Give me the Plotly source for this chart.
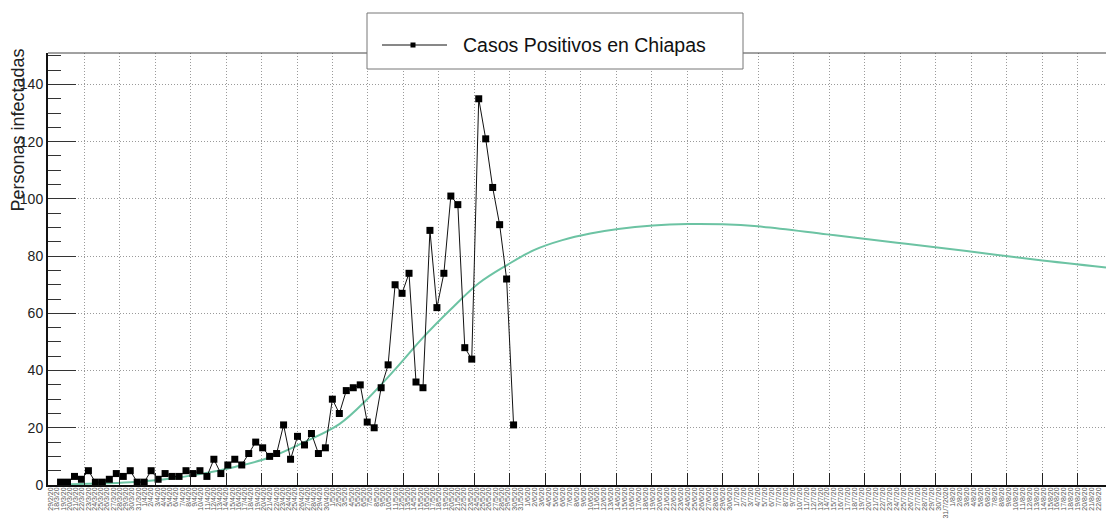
import numpy as np
import plotly.graph_objects as go

# ---------------- data ----------------
# daily positive cases (day index 0 = 27/3/20 ... 65 = 31/5/20)
case_day = list(range(66))
cases = [1, 1, 3, 2, 5, 1, 1, 2, 4, 3, 5, 1, 1, 5, 2, 4, 3, 3, 5, 4,
         5, 3, 9, 4, 7, 9, 7, 11, 15, 13, 10, 11, 21, 9, 17, 14, 18, 11, 13, 30,
         25, 33, 34, 35, 22, 20, 34, 42, 70, 67, 74, 36, 34, 89, 62, 74, 101, 98, 48, 44,
         135, 121, 104, 91, 72, 21]

# fitted curve
fit_day = [0, 5, 10, 15, 20, 25, 30, 35, 40, 44, 48, 52, 56, 60, 64, 68, 72, 76,
           80, 85, 90, 95, 100, 110, 120, 130, 140, 150]
fit_value = [0.2, 0.5, 1.0, 2.0, 3.8, 6.3, 9.6, 15.0, 21.3, 30.0, 40.4, 51.5, 61.4, 70.5,
             76.8, 82.2, 85.6, 87.9, 89.5, 90.7, 91.2, 91.1, 90.4, 87.6, 84.7, 81.8, 78.7, 76.0]

# date tick labels
labels_early = (["29/2/20"] + [f"{d}/3/20" for d in range(18, 32)]
                + [f"{d}/4/20" for d in range(1, 31)] + [f"{d}/5/20" for d in range(1, 32)])
labels_late = ([f"{d}/6/20" for d in range(1, 31)]
               + [f"{d}/7/20" for d in range(1, 31)] + ["31/7/2020"]
               + [f"{d}/8/20" for d in range(1, 23)])

y_ticks = [0, 20, 40, 60, 80, 100, 120, 140]
legend_label = "Casos Positivos en Chiapas"
y_title = "Personas infectadas"

# ---------------- layout constants ----------------
W, H = 1106, 528
ML, MR, MT, MB = 48, 0, 53, 43
x_range = [-1.8, 150.0]
y_range = [0, 151]
grid_start, grid_step = 3.39, 5.09
FONT = "Liberation Sans, Arial, Helvetica, sans-serif"
NARROW = "Liberation Sans Narrow, Arial Narrow, Liberation Sans, Arial, sans-serif"
FIT_COLOR = "#6cc3a3"
GRID = "#9a9a9a"
GRID_DASH = "1px,2px"

pw, ph = W - ML - MR, H - MT - MB


def px_x(p):
    return (p - ML) / pw


def px_y(p):
    return (H - MB - p) / ph


lab_pos = list(np.linspace(-1.4, 66, len(labels_early))) + [67 + i for i in range(len(labels_late))]
lab_text = labels_early + labels_late

fig = go.Figure()
fig.add_trace(go.Scatter(x=fit_day, y=fit_value, mode="lines",
                         line=dict(color=FIT_COLOR, width=2, shape="spline", smoothing=1.0),
                         showlegend=False, hoverinfo="skip"))
fig.add_trace(go.Scatter(x=case_day, y=cases, mode="lines+markers", name=legend_label,
                         line=dict(color="#111111", width=1),
                         marker=dict(symbol="square", size=7, color="#000000"),
                         showlegend=False))
# carriers for the helper axes (date labels / inside tick marks)
fig.add_trace(go.Scatter(x=[lab_pos[0]], y=[0], xaxis="x2", yaxis="y", mode="markers",
                         marker=dict(opacity=0), showlegend=False, hoverinfo="skip"))
fig.add_trace(go.Scatter(x=[lab_pos[0]], y=[0], xaxis="x", yaxis="y2", mode="markers",
                         marker=dict(opacity=0), showlegend=False, hoverinfo="skip"))

fig.update_layout(
    template="none",
    width=W, height=H,
    margin=dict(l=ML, r=MR, t=MT, b=MB, pad=0),
    paper_bgcolor="white", plot_bgcolor="white",
    font=dict(family=FONT, color="#222"),
    xaxis=dict(range=x_range, showticklabels=False, ticks="inside", ticklen=12,
               tickcolor="#222", tickwidth=1, tick0=grid_start, dtick=grid_step,
               showgrid=True, griddash=GRID_DASH, gridcolor=GRID, gridwidth=1,
               showline=True, linecolor="#111", linewidth=2, zeroline=False,
               automargin=False),
    xaxis2=dict(range=x_range, overlaying="x", anchor="y", side="bottom",
                tickmode="array", tickvals=lab_pos, ticktext=lab_text, tickangle=-90,
                tickfont=dict(size=7, color="#555"), ticks="", showgrid=False,
                showline=False, zeroline=False, automargin=False),
    # labelled axis (no tick marks)
    yaxis=dict(range=y_range, tickmode="array", tickvals=y_ticks, ticks="",
               showgrid=True, griddash=GRID_DASH, gridcolor=GRID, gridwidth=1,
               showline=True, linecolor="#111", linewidth=2, zeroline=False,
               ticklabelstandoff=0,
               tickfont=dict(size=14, color="#222", family=NARROW), automargin=False),
    # tick-mark axis (inside major + minor ticks)
    yaxis2=dict(range=y_range, overlaying="y", anchor="x", side="left",
                tickmode="array", tickvals=y_ticks, showticklabels=False,
                ticks="inside", ticklen=28, tickcolor="#333", tickwidth=1,
                minor=dict(dtick=5, tick0=0, ticks="inside", ticklen=13, tickcolor="#333",
                           showgrid=False),
                showgrid=False, showline=False, zeroline=False, automargin=False),
    showlegend=False,
)

# top frame line
fig.add_shape(type="line", xref="paper", yref="paper", x0=0, x1=1, y0=1, y1=1,
              line=dict(color="#444", width=1))

# y title at the top of the axis
fig.add_annotation(text=y_title, xref="paper", yref="paper", x=px_x(17), y=px_y(47),
                   xanchor="center", yanchor="top", textangle=-90, showarrow=False,
                   font=dict(size=18, color="#222", family=FONT))

# legend box (drawn manually)
fig.add_shape(type="rect", xref="paper", yref="paper",
              x0=px_x(367), x1=px_x(743), y0=px_y(69), y1=px_y(13),
              fillcolor="white", line=dict(color="#777", width=1), layer="above")
fig.add_shape(type="line", xref="paper", yref="paper",
              x0=px_x(382), x1=px_x(447), y0=px_y(45), y1=px_y(45),
              line=dict(color="#111", width=1), layer="above")
fig.add_shape(type="rect", xref="paper", yref="paper",
              x0=px_x(410.5), x1=px_x(415.5), y0=px_y(47.5), y1=px_y(42.5),
              fillcolor="#000", line=dict(color="#000", width=0), layer="above")
fig.add_annotation(text=legend_label, xref="paper", yref="paper", x=px_x(461), y=px_y(45),
                   xanchor="left", yanchor="middle", showarrow=False,
                   font=dict(size=19.5, color="#111", family=FONT))

fig.write_html("out.html", config={"displayModeBar": False},
               post_script="document.body.style.margin='0';document.body.style.overflow='hidden';")
